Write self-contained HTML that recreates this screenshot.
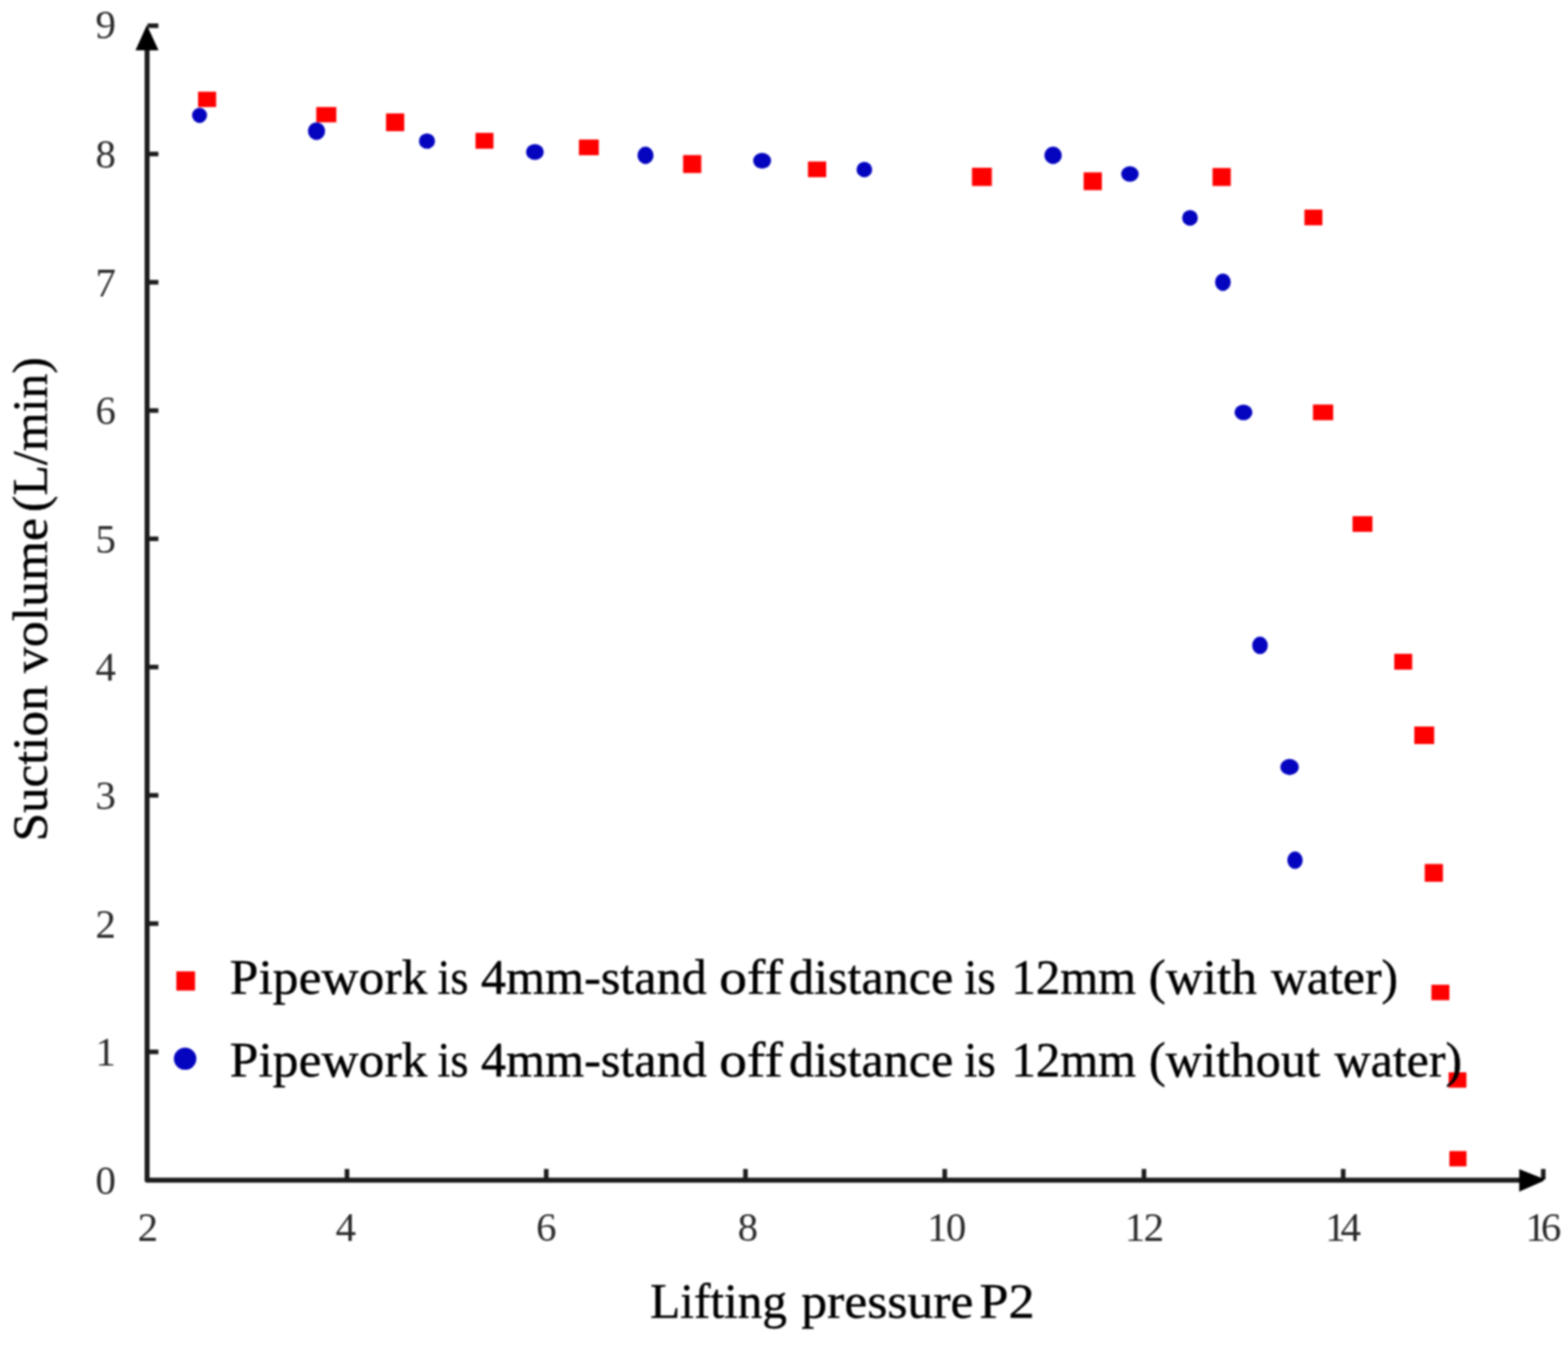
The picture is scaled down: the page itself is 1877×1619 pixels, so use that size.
<!DOCTYPE html>
<html lang="en">
<head>
<meta charset="utf-8">
<title>Suction volume vs lifting pressure P2</title>
<style>
html,body{margin:0;padding:0;background:#fff;}
body{width:1877px;height:1619px;overflow:hidden;}
svg{display:block;}
text{font-family:"Liberation Serif","Times New Roman",serif;white-space:pre;}
.tk{font-size:49px;fill:#2a2a2a;}
.lb{font-size:60px;fill:#000;stroke:#000;stroke-width:0.5px;stroke-linejoin:round;}
.ax{stroke:#1c1c1c;fill:none;}
</style>
</head>
<body>
<svg width="1877" height="1619" viewBox="0 0 1877 1619" style="filter:blur(1.0px)">
<rect x="0" y="0" width="1877" height="1619" fill="#ffffff"/>
<g fill="#ff0000">
<rect x="237.1" y="109.8" width="21.6" height="18.4"/>
<rect x="378.6" y="128.2" width="24.0" height="18.3"/>
<rect x="462.1" y="135.8" width="21.8" height="21.3"/>
<rect x="569.2" y="159.1" width="21.5" height="19.0"/>
<rect x="693.0" y="167.1" width="23.8" height="18.8"/>
<rect x="817.7" y="185.7" width="21.8" height="21.5"/>
<rect x="967.2" y="193.4" width="21.8" height="18.8"/>
<rect x="1163.5" y="200.9" width="23.8" height="21.8"/>
<rect x="1297.2" y="206.4" width="21.8" height="21.3"/>
<rect x="1451.5" y="201.2" width="21.8" height="21.5"/>
<rect x="1561.5" y="251.0" width="21.5" height="18.8"/>
<rect x="1571.7" y="484.4" width="24.2" height="18.8"/>
<rect x="1619.1" y="618.1" width="23.8" height="18.8"/>
<rect x="1669.0" y="782.9" width="21.5" height="19.0"/>
<rect x="1693.0" y="870.0" width="23.8" height="21.0"/>
<rect x="1705.5" y="1034.6" width="21.8" height="21.3"/>
<rect x="1713.5" y="1179.2" width="21.5" height="18.5"/>
<rect x="1734.1" y="1284.1" width="21.3" height="18.4"/>
<rect x="1735.0" y="1378.4" width="20.5" height="18.3"/>
<rect x="211.1" y="1163.2" width="22.4" height="23.0"/>
</g>
<g fill="#0505c0">
<ellipse cx="238.9" cy="138.1" rx="9.00" ry="9.10"/>
<ellipse cx="378.9" cy="157.1" rx="10.30" ry="10.60"/>
<ellipse cx="511.1" cy="168.9" rx="9.65" ry="9.25"/>
<ellipse cx="640.3" cy="182.0" rx="10.65" ry="9.40"/>
<ellipse cx="772.7" cy="186.0" rx="9.65" ry="10.40"/>
<ellipse cx="912.3" cy="192.5" rx="10.75" ry="9.40"/>
<ellipse cx="1034.7" cy="203.0" rx="9.40" ry="9.15"/>
<ellipse cx="1260.6" cy="186.0" rx="10.50" ry="10.40"/>
<ellipse cx="1352.6" cy="208.3" rx="10.50" ry="9.40"/>
<ellipse cx="1424.5" cy="260.9" rx="9.40" ry="9.40"/>
<ellipse cx="1463.9" cy="337.9" rx="9.40" ry="10.50"/>
<ellipse cx="1488.5" cy="493.8" rx="10.75" ry="9.40"/>
<ellipse cx="1508.3" cy="772.8" rx="9.40" ry="10.50"/>
<ellipse cx="1543.7" cy="918.5" rx="11.00" ry="9.65"/>
<ellipse cx="1550.2" cy="1030.1" rx="9.25" ry="10.50"/>
<ellipse cx="221.6" cy="1267.8" rx="13.5" ry="13.2"/>
</g>
<g class="ax" stroke-width="6">
<path d="M176.1 55 V1413.3 H1825" stroke-linejoin="round"/>
<line x1="176.1" y1="1259.6" x2="189.6" y2="1259.6" stroke-width="5.5"/>
<line x1="176.1" y1="1106.0" x2="189.6" y2="1106.0" stroke-width="5.5"/>
<line x1="176.1" y1="952.4" x2="189.6" y2="952.4" stroke-width="5.5"/>
<line x1="176.1" y1="798.8" x2="189.6" y2="798.8" stroke-width="5.5"/>
<line x1="176.1" y1="645.2" x2="189.6" y2="645.2" stroke-width="5.5"/>
<line x1="176.1" y1="491.6" x2="189.6" y2="491.6" stroke-width="5.5"/>
<line x1="176.1" y1="338.0" x2="189.6" y2="338.0" stroke-width="5.5"/>
<line x1="176.1" y1="184.4" x2="189.6" y2="184.4" stroke-width="5.5"/>
<line x1="176.6" y1="30.8" x2="189.6" y2="30.8" stroke-width="5.5"/>
<line x1="415.4" y1="1413.3" x2="415.4" y2="1399.8" stroke-width="5.5"/>
<line x1="653.9" y1="1413.3" x2="653.9" y2="1399.8" stroke-width="5.5"/>
<line x1="892.4" y1="1413.3" x2="892.4" y2="1399.8" stroke-width="5.5"/>
<line x1="1130.9" y1="1413.3" x2="1130.9" y2="1399.8" stroke-width="5.5"/>
<line x1="1369.4" y1="1413.3" x2="1369.4" y2="1399.8" stroke-width="5.5"/>
<line x1="1607.9" y1="1413.3" x2="1607.9" y2="1399.8" stroke-width="5.5"/>
<line x1="1847.4" y1="1412.3" x2="1847.4" y2="1399.8" stroke-width="5.5"/>
</g>
<g fill="#000">
<polygon points="175.8,30 162.2,60.3 189.8,60.3"/>
<polygon points="1818.6,1399.9 1845,1410.6 1849.8,1410.6 1847,1414.6 1818.6,1427"/>
</g>
<g class="tk" text-anchor="middle">
<text x="126.5" y="1429.7">0</text>
<text x="126.5" y="1276.1">1</text>
<text x="126.5" y="1122.5">2</text>
<text x="126.5" y="968.9">3</text>
<text x="126.5" y="815.3">4</text>
<text x="126.5" y="661.7">5</text>
<text x="126.5" y="508.1">6</text>
<text x="126.5" y="354.5">7</text>
<text x="126.5" y="200.9">8</text>
<text x="126.5" y="46.3">9</text>
</g>
<g class="tk">
<text x="164.8" y="1485.5">2</text>
<text x="401.8" y="1485.5">4</text>
<text x="641.7" y="1485.5">6</text>
<text x="882.9" y="1485.5">8</text>
<text x="1109.8" y="1485.5" letter-spacing="-2">10</text>
<text x="1346.4" y="1485.5" letter-spacing="-2">12</text>
<text x="1586.3" y="1485.5" letter-spacing="-6">14</text>
<text x="1826.0" y="1485.5" letter-spacing="-6">16</text>
</g>
<g class="lb">
<text y="1190.0"><tspan x="275.1" textLength="236.5" lengthAdjust="spacingAndGlyphs">Pipework</tspan> <tspan x="523.8" textLength="37.0" lengthAdjust="spacingAndGlyphs">is</tspan> <tspan x="575.7" textLength="270.4" lengthAdjust="spacingAndGlyphs">4mm-stand</tspan> <tspan x="861.0" textLength="76.0" lengthAdjust="spacingAndGlyphs">off</tspan> <tspan x="944.5" textLength="196.6" lengthAdjust="spacingAndGlyphs">distance</tspan> <tspan x="1154.3" textLength="37.8" lengthAdjust="spacingAndGlyphs">is</tspan> <tspan x="1210.8" textLength="149.1" lengthAdjust="spacingAndGlyphs">12mm</tspan> <tspan x="1375.1" textLength="129.5" lengthAdjust="spacingAndGlyphs">(with</tspan> <tspan x="1521.6" textLength="152.0" lengthAdjust="spacingAndGlyphs">water)</tspan></text>
<text y="1288.9"><tspan x="275.1" textLength="236.5" lengthAdjust="spacingAndGlyphs">Pipework</tspan> <tspan x="523.8" textLength="37.0" lengthAdjust="spacingAndGlyphs">is</tspan> <tspan x="575.7" textLength="270.4" lengthAdjust="spacingAndGlyphs">4mm-stand</tspan> <tspan x="861.0" textLength="76.0" lengthAdjust="spacingAndGlyphs">off</tspan> <tspan x="944.5" textLength="196.6" lengthAdjust="spacingAndGlyphs">distance</tspan> <tspan x="1154.3" textLength="37.8" lengthAdjust="spacingAndGlyphs">is</tspan> <tspan x="1210.8" textLength="149.1" lengthAdjust="spacingAndGlyphs">12mm</tspan> <tspan x="1375.2" textLength="205.1" lengthAdjust="spacingAndGlyphs">(without</tspan> <tspan x="1597.4" textLength="152.9" lengthAdjust="spacingAndGlyphs">water)</tspan></text>
<text y="1578.3"><tspan x="778.3" textLength="163.8" lengthAdjust="spacingAndGlyphs">Lifting</tspan> <tspan x="959.2" textLength="206.0" lengthAdjust="spacingAndGlyphs">pressure</tspan> <tspan x="1172.4" textLength="66.0" lengthAdjust="spacingAndGlyphs">P2</tspan></text>
<text y="0.0" transform="translate(55.8 1003.9) rotate(-90)"><tspan x="-3.7" textLength="186.7" lengthAdjust="spacingAndGlyphs">Suction</tspan> <tspan x="197.8" textLength="186.0" lengthAdjust="spacingAndGlyphs">volume</tspan> <tspan x="390.6" textLength="185.8" lengthAdjust="spacingAndGlyphs">(L/min)</tspan></text>
</g>
</svg>
</body>
</html>
